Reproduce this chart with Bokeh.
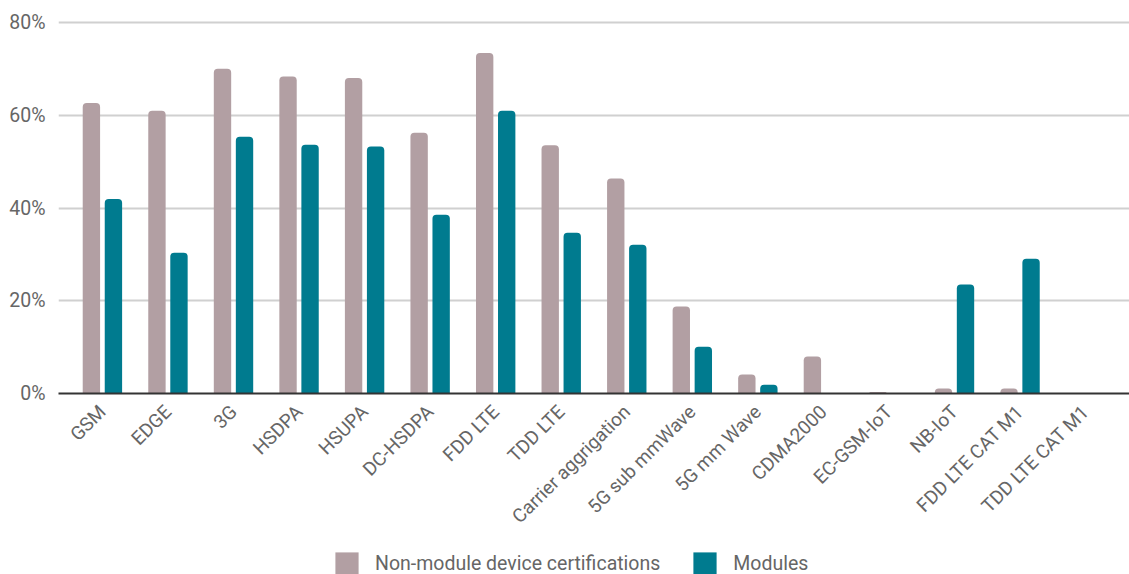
from bokeh.plotting import figure
from bokeh.layouts import column
from bokeh.models import ColumnDataSource, FactorRange, Range1d, Legend, LegendItem, PrintfTickFormatter, FixedTicker
from bokeh.transform import dodge
from bokeh.embed import file_html
from bokeh.resources import INLINE

categories = ["GSM", "EDGE", "3G", "HSDPA", "HSUPA", "DC-HSDPA", "FDD LTE", "TDD LTE",
              "Carrier aggrigation", "5G sub mmWave", "5G mm Wave", "CDMA2000",
              "EC-GSM-IoT", "NB-IoT", "FDD LTE CAT M1", "TDD LTE CAT M1"]
non_module = [62.7, 61.0, 70.1, 68.4, 68.1, 56.3, 73.5, 53.6, 46.4, 18.8, 4.1, 8.0, 0.3, 1.1, 1.1, 0.0]
modules = [42.0, 30.4, 55.4, 53.7, 53.3, 38.6, 61.0, 34.7, 32.1, 10.1, 1.9, 0.1, 0.1, 23.5, 29.1, 0.1]
series_names = ["Non-module device certifications", "Modules"]
y_ticks = [0, 20, 40, 60, 80]

PINK = "#b29fa3"
TEAL = "#007b8f"
FONT = "Roboto"
GREY = "#666666"

src = ColumnDataSource(data=dict(cat=categories, a=non_module, b=modules))

p = figure(x_range=FactorRange(*categories, range_padding=0.17, range_padding_units="absolute"),
           y_range=Range1d(0, 80.5),
           width=1129, height=544, output_backend="svg", toolbar_location=None,
           min_border_left=58, min_border_right=0, min_border_top=20, min_border_bottom=151)
p.outline_line_color = None

r1 = p.vbar(x=dodge("cat", -0.168, range=p.x_range), top="a", width=0.265, source=src,
            fill_color=PINK, line_color=None, border_radius=(4, 4, 0, 0))
r2 = p.vbar(x=dodge("cat", 0.168, range=p.x_range), top="b", width=0.265, source=src,
            fill_color=TEAL, line_color=None, border_radius=(4, 4, 0, 0))

p.xgrid.grid_line_color = None
p.ygrid.grid_line_color = "#d0d0d0"
p.ygrid.grid_line_width = 2
p.ygrid.ticker = FixedTicker(ticks=y_ticks)

p.yaxis.ticker = FixedTicker(ticks=y_ticks)
p.yaxis.formatter = PrintfTickFormatter(format="%d%%")
p.yaxis.axis_line_color = None
p.yaxis.major_tick_line_color = None
p.yaxis.minor_tick_line_color = None
p.yaxis.major_label_text_font = FONT
p.yaxis.major_label_text_font_size = "19.5px"
p.yaxis.major_label_text_color = GREY
p.yaxis.major_label_standoff = 7

p.xaxis.axis_line_color = "#333333"
p.xaxis.axis_line_width = 2
p.xaxis.major_tick_line_color = None
p.xaxis.minor_tick_line_color = None
p.xaxis.major_label_orientation = 0.785398
p.xaxis.major_label_text_font = FONT
p.xaxis.major_label_text_font_size = "19px"
p.xaxis.major_label_text_color = GREY
p.xaxis.major_label_text_baseline = "top"
p.xaxis.major_label_standoff = 9

# legend strip below the chart
lf = figure(width=1129, height=30, output_backend="svg", toolbar_location=None,
            x_range=Range1d(0, 1), y_range=Range1d(0, 1),
            x_axis_location=None, y_axis_location=None,
            min_border_left=0, min_border_right=0, min_border_top=0, min_border_bottom=0)
lf.outline_line_color = None
lf.xgrid.visible = False
lf.ygrid.visible = False
hidden = ColumnDataSource(data=dict(x=[-10], top=[-10]))
d1 = lf.vbar(x="x", top="top", width=0.1, source=hidden, fill_color=PINK, line_color=None)
d2 = lf.vbar(x="x", top="top", width=0.1, source=hidden, fill_color=TEAL, line_color=None)

legend = Legend(items=[LegendItem(label=series_names[0], renderers=[d1]),
                       LegendItem(label=series_names[1], renderers=[d2])],
                orientation="horizontal", location=(274, -4),
                label_text_font=FONT, label_text_font_size="19.5px", label_text_color=GREY,
                glyph_width=29, glyph_height=29, label_standoff=14, spacing=30,
                border_line_color=None, background_fill_alpha=0, padding=0, margin=0)
lf.add_layout(legend)

layout = column(p, lf, spacing=0)
open("out.html", "w").write(file_html(layout, INLINE))
